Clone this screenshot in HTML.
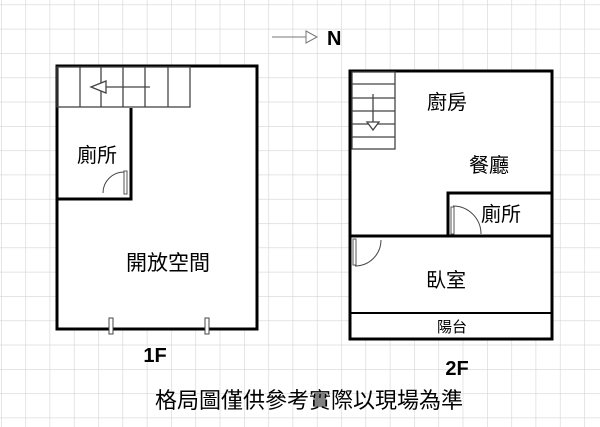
<!DOCTYPE html>
<html><head><meta charset="utf-8"><style>html,body{margin:0;padding:0;background:#fff}svg{display:block}</style></head><body>
<svg width="600" height="427" viewBox="0 0 600 427" xmlns="http://www.w3.org/2000/svg" font-family="Liberation Sans, Noto Sans CJK TC, sans-serif">
<defs>
<pattern id="g" x="1" y="4.5" width="24.3" height="24.3" patternUnits="userSpaceOnUse">
<path d="M0 0H24.3M0 0V24.3" stroke="#d4d4d4" stroke-width="1.2" fill="none"/>
</pattern>
</defs>
<rect width="600" height="427" fill="url(#g)"/>
<line x1="272" y1="37" x2="306" y2="37" stroke="#777" stroke-width="1"/>
<polygon points="306,31 317,37 306,43" fill="#fff" stroke="#777" stroke-width="1"/>
<text x="327" y="45" font-size="20" font-weight="bold">N</text>

<rect x="57" y="66" width="200" height="263" fill="#fff" stroke="#000" stroke-width="3"/>
<g stroke="#444" stroke-width="1.3" fill="none">
<rect x="57" y="67" width="133" height="40"/>
<line x1="80" y1="67" x2="80" y2="107"/><line x1="101" y1="67" x2="101" y2="107"/>
<line x1="123" y1="67" x2="123" y2="107"/><line x1="145" y1="67" x2="145" y2="107"/>
<line x1="168" y1="67" x2="168" y2="107"/>
<line x1="106" y1="87" x2="150" y2="87"/>
</g>
<polygon points="91,87 106,81 106,93" fill="#fff" stroke="#444" stroke-width="1.3"/>
<path d="M131 108V199H56" stroke="#000" stroke-width="3" fill="none"/>
<rect x="124" y="171" width="3" height="23" fill="#fff" stroke="#555" stroke-width="1"/>
<path d="M103 193A21 21 0 0 1 124 172" stroke="#444" fill="none" stroke-width="1"/>
<rect x="109" y="318" width="4" height="16" fill="#fff" stroke="#444"/>
<rect x="205" y="318" width="4" height="16" fill="#fff" stroke="#444"/>
<text x="97" y="162" font-size="20" text-anchor="middle">廁所</text>
<text x="168" y="270" font-size="21" text-anchor="middle">開放空間</text>
<text x="155" y="362" font-size="20" font-weight="bold" text-anchor="middle">1F</text>

<rect x="350" y="71" width="202" height="268" fill="#fff" stroke="#000" stroke-width="3"/>
<g stroke="#444" stroke-width="1.3" fill="none">
<rect x="352" y="72" width="43" height="77"/>
<line x1="352" y1="84" x2="395" y2="84"/><line x1="352" y1="98" x2="395" y2="98"/>
<line x1="352" y1="111" x2="395" y2="111"/><line x1="352" y1="124" x2="395" y2="124"/>
<line x1="352" y1="137" x2="395" y2="137"/>
<line x1="373" y1="94" x2="373" y2="122"/>
</g>
<polygon points="367,122 379,122 373,130" fill="#fff" stroke="#444" stroke-width="1.3"/>
<path d="M552 193H448V235" stroke="#000" stroke-width="3" fill="none"/>
<line x1="350" y1="236" x2="552" y2="236" stroke="#000" stroke-width="3"/>
<line x1="350" y1="313" x2="552" y2="313" stroke="#000" stroke-width="2"/>
<rect x="451" y="207" width="3" height="27" fill="#fff" stroke="#555"/>
<path d="M453 206A28 28 0 0 1 481 234" stroke="#444" fill="none"/>
<rect x="353" y="239" width="3" height="26" fill="#fff" stroke="#555"/>
<path d="M355 266A26 26 0 0 0 381 240" stroke="#444" fill="none"/>
<text x="447" y="109" font-size="20" text-anchor="middle">廚房</text>
<text x="489" y="172" font-size="20" text-anchor="middle">餐廳</text>
<text x="501" y="221" font-size="20" text-anchor="middle">廁所</text>
<text x="446" y="287" font-size="20" text-anchor="middle">臥室</text>
<text x="452" y="332" font-size="15" text-anchor="middle">陽台</text>
<text x="457" y="375" font-size="20" font-weight="bold" text-anchor="middle">2F</text>

<text x="309" y="408" font-size="22" text-anchor="middle">格局圖僅供參考實際以現場為準</text>
</svg>
</body></html>
